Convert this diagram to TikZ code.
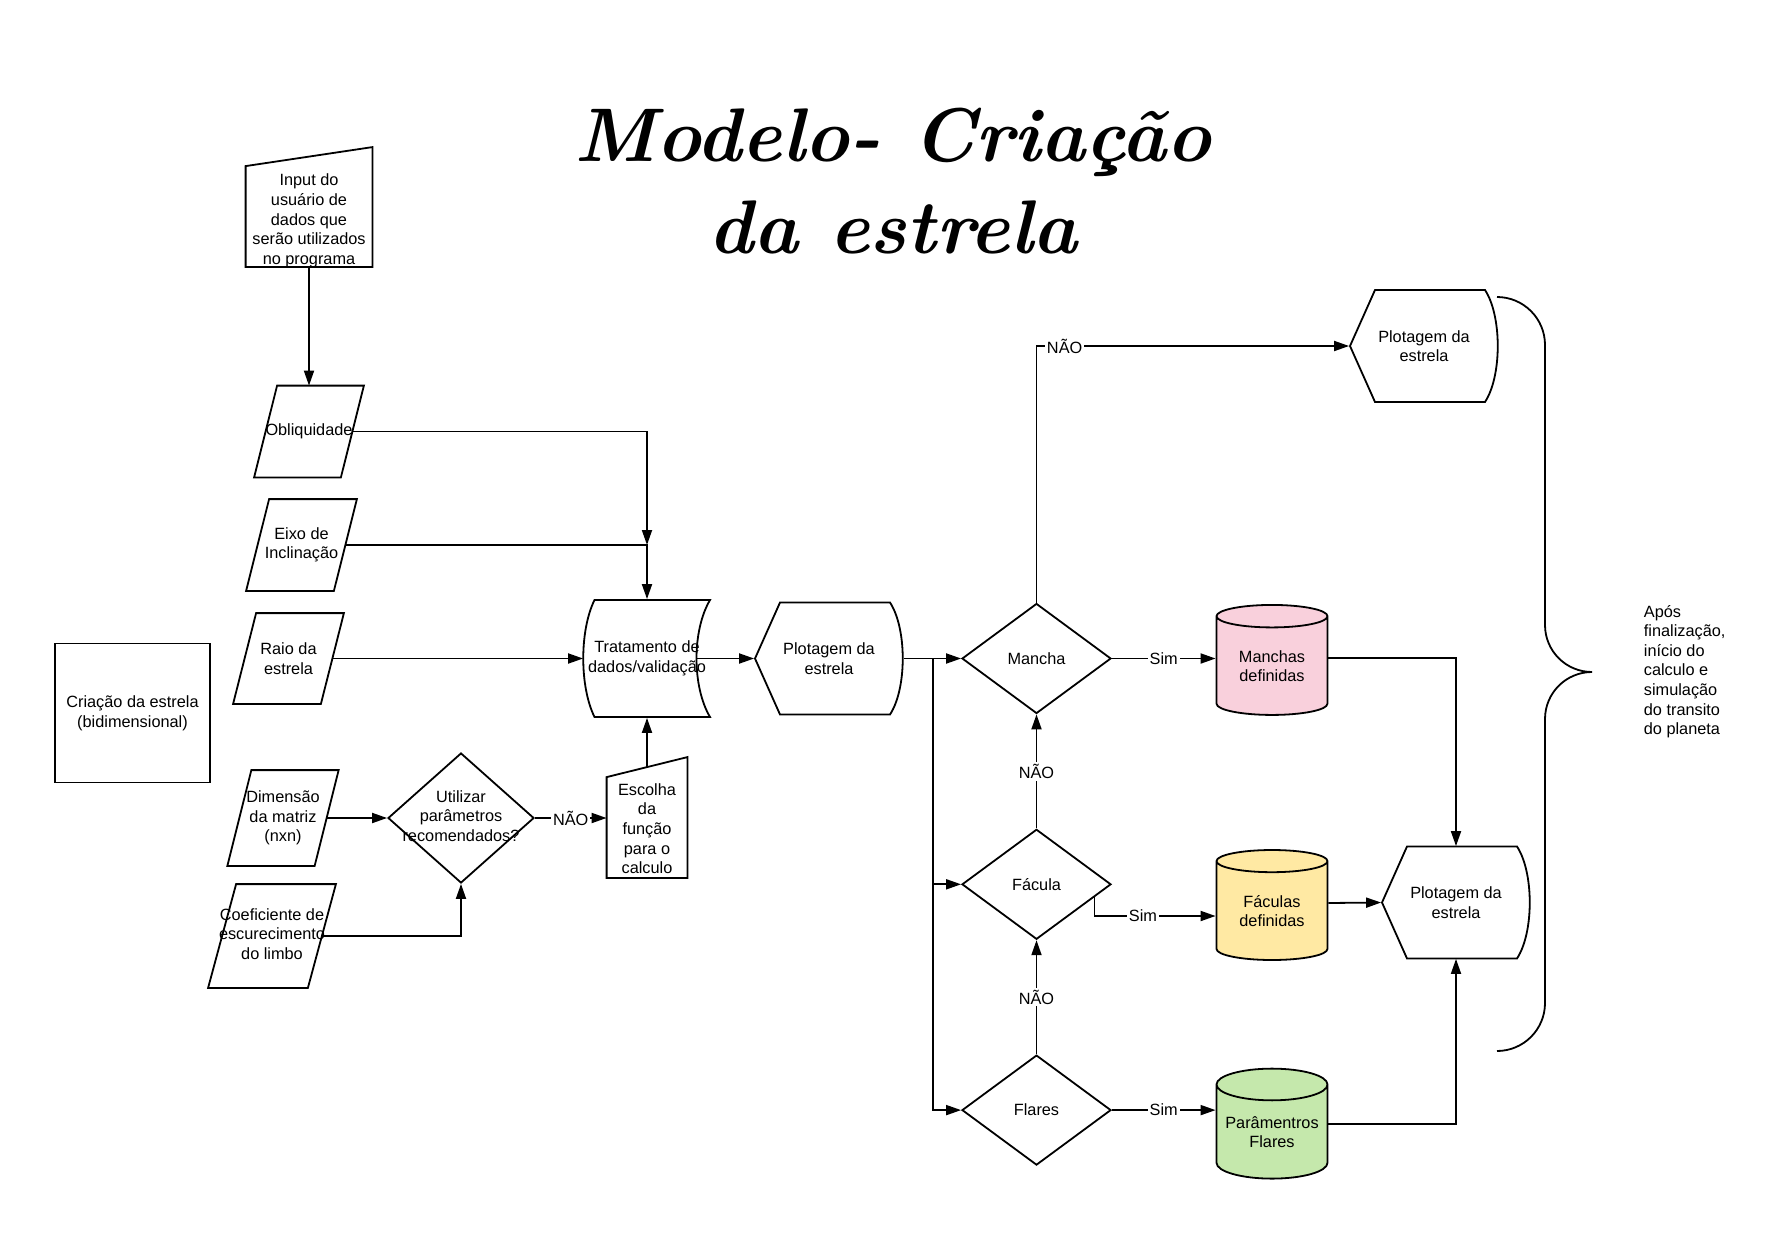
\documentclass[tikz,border=0pt]{standalone}
\usepackage{fontspec}
\setsansfont{Liberation Sans}
\renewcommand{\familydefault}{\sfdefault}
\usetikzlibrary{arrows.meta,positioning,shapes.geometric,calc}
\definecolor{Pink}{HTML}{F9D0DC}
\definecolor{Sand}{HTML}{FFE9A3}
\definecolor{Mint}{HTML}{C5E8AC}
\newcommand{\freetext}[1]{\makebox[0pt]{\begin{tabular}{@{}c@{}}#1\end{tabular}}}

\begin{document}
\begin{tikzpicture}[
    x=0.5pt,y=-0.5pt,line width=0.9pt,
    every node/.style={font=\fontsize{8.15pt}{9.8pt}\selectfont,inner sep=0pt,align=center},
    io/.style 2 args={minimum width=#1,minimum height=#2},
    dec/.style={diamond,draw,aspect=1.35,minimum width=74.5pt,minimum height=55pt},
    store/.style={cylinder,shape border rotate=90,shape aspect=0.34,draw,
      minimum width=55.5pt,minimum height=55pt,fill=#1},
    lbl/.style={fill=white,inner sep=1pt},
    arr/.style={-{Triangle[length=7.5pt,width=5pt]}}
  ]
  \useasboundingbox (0,0) rectangle (1768,1237);
  \node[font=\rmfamily\bfseries\itshape\fontsize{38pt}{46pt}\selectfont] (title) at (893,181)
    {Modelo- Criação\\da estrela};

  \node[io={62.5pt}{49.5pt}] (inp) at (309,216.5)
    {\raisebox{-4.3pt}[0pt][0pt]{\freetext{Input do\\usuário de\\dados que\\serão utilizados\\no programa}}};
  \node[io={42.5pt}{45pt}] (obl) at (309,431.5) {\freetext{Obliquidade}};
  \node[io={43pt}{45pt}] (eixo) at (301.5,545) {Eixo de\\Inclinação};
  \node[io={43pt}{44.5pt}] (raio) at (288.5,658.5) {Raio da\\estrela};
  \node[io={42.75pt}{47pt}] (dim) at (283,818) {Dimensão\\da matriz\\(nxn)};
  \node[io={49pt}{51pt}] (coef) at (272,936) {\freetext{Coeficiente de\\escurecimento\\do limbo}};
  \node[draw,io={77.5pt}{69.5pt}] (crea) at (132.5,713) {Criação da estrela\\(bidimensional)};
  \node[dec,minimum width=73pt,minimum height=65pt] (util) at (461,818)
    {\freetext{Utilizar\\parâmetros\\recomendados?}};
  \node[io={39.5pt}{49.5pt}] (esc) at (647,827.5)
    {\raisebox{-3.5pt}[0pt][0pt]{\freetext{Escolha\\da\\função\\para o\\calculo}}};
  \node[io={63pt}{58.5pt}] (trat) at (647,658.5) {Tratamento de\\dados/validação};
  \node[io={74pt}{56pt}] (plotA) at (829,658.5) {Plotagem da\\estrela};

  \node[dec] (mancha) at (1036.5,658.5) {Mancha};
  \node[dec,below=57pt of mancha] (facula) {Fácula};
  \node[dec,below=57pt of facula] (flares) {Flares};
  \node[store=Pink] (mcyl) at (1272,666) {Manchas\\definidas};
  \node[store=Sand] (fcyl) at (1272,911) {Fáculas\\definidas};
  \node[store=Mint] (pcyl) at (1272,1132) {Parâmentros\\Flares};
  \node[io={74pt}{55.5pt}] (plotB) at (1424,346) {Plotagem da\\estrela};
  \node[io={74pt}{55.5pt}] (plotC) at (1456,902.5) {Plotagem da\\estrela};
  \node[anchor=west,align=left] (apos) at (1643,671.5)
    {Após\\finalização,\\início do\\calculo e\\simulação\\do transito\\do planeta};

  \draw (inp.south west) -- (inp.north west) -- ([yshift=9.5pt]inp.north east) -- (inp.south east) -- cycle;
  \draw (esc.south west) -- (esc.north west) -- ([yshift=10pt]esc.north east) -- (esc.south east) -- cycle;
  \foreach \n/\s in {obl/11.5,eixo/11.5,raio/11.5,dim/12,coef/14}
    \draw ($(\n.north west)+(\s,0)$) -- ($(\n.north east)+(\s,0)$)
      -- ($(\n.south east)-(\s,0)$) -- ($(\n.south west)-(\s,0)$) -- cycle;
  \draw[shift={(trat.center)}] (63,-58.5) -- (-52.5,-58.5)
    .. controls (-67.5,-28) and (-67.5,28) .. (-52.5,58.5) -- (63,58.5)
    .. controls (45,28) and (45,-28) .. (63,-58.5) -- cycle;
  \foreach \n in {plotA,plotB,plotC}
    \draw[shift={(\n.center)}] (-74,0) -- (-49,-56) -- (61,-56)
      .. controls (78,-30) and (78,30) .. (61,56) -- (-49,56) -- cycle;
  \draw (1497,297) .. controls (1523.5,297) and (1545,318.5) .. (1545,345) -- (1545,625)
    .. controls (1545,651) and (1566,672) .. (1592,672)
    .. controls (1566,672) and (1545,693) .. (1545,719) -- (1545,1003)
    .. controls (1545,1029.5) and (1523.5,1051) .. (1497,1051);

  \coordinate (join) at (trat.north |- eixo.east);
  \coordinate (fork) at ($(plotA.east)+(29,0)$);
  \draw[arr] (inp.south) -- (obl.north);
  \draw[arr] (obl.east) -| (join);
  \draw[arr] (eixo.east) -| (trat.north);
  \draw[arr] (raio.east) -- (trat.west);
  \draw[arr] (dim.east) -- (util.west);
  \draw[arr] (coef.east) -| (util.south);
  \draw[arr] (util.east) -- node[lbl]{NÃO} (util.east -| esc.west);
  \draw[arr] ([yshift=5pt]esc.north) -- (trat.south);
  \draw[arr] ([xshift=-7pt]trat.east) -- (plotA.west);
  \draw[arr] (plotA.east) -- (mancha.west);
  \draw[arr] (fork) |- (facula.west);
  \draw[arr] (fork) |- (flares.west);
  \draw[arr] (mancha.north) |- node[lbl,pos=0.545]{NÃO} (plotB.west);
  \draw[arr] (facula.north) -- node[lbl]{NÃO} (mancha.south);
  \draw[arr] (flares.north) -- node[lbl]{NÃO} (facula.south);
  \draw[arr] (mancha.east) -- node[lbl]{Sim} (mancha.east -| mcyl.west);
  \draw[arr] ($(facula.east)!0.23!(facula.south)$) |- node[lbl,pos=0.7]{Sim} ([yshift=-2.5pt]fcyl.west);
  \draw[arr] (flares.east) -- node[lbl]{Sim} (flares.east -| pcyl.west);
  \draw[arr] ([yshift=4pt]mcyl.east) -| (plotC.north);
  \draw[arr] ([yshift=4pt]fcyl.east) -- (plotC.west);
  \draw[arr] ([yshift=4pt]pcyl.east) -| (plotC.south);
\end{tikzpicture}
\end{document}
